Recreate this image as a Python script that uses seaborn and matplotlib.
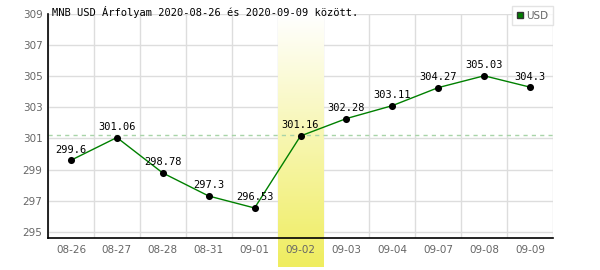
import numpy as np
import pandas as pd
import matplotlib
matplotlib.use("Agg")
import matplotlib.pyplot as plt
from matplotlib.patches import Patch
import seaborn as sns

dates = ["08-26", "08-27", "08-28", "08-31", "09-01", "09-02",
         "09-03", "09-04", "09-07", "09-08", "09-09"]
values = [299.6, 301.06, 298.78, 297.3, 296.53, 301.16,
          302.28, 303.11, 304.27, 305.03, 304.3]
value_labels = ["299.6", "301.06", "298.78", "297.3", "296.53", "301.16",
                "302.28", "303.11", "304.27", "305.03", "304.3"]
yticks = [295, 297, 299, 301, 303, 305, 307, 309]
highlight = "09-02"
series_name = "USD"
title = "MNB USD Árfolyam 2020-08-26 és 2020-09-09 között."

df = pd.DataFrame({"idx": np.arange(len(dates)), "date": dates, "value": values})

sns.set_theme(style="white")
plt.rcParams["font.family"] = ["DejaVu Sans"]

fig = plt.figure(figsize=(6.0, 2.7), dpi=100)
ax = fig.add_axes([0.08, 0.1185, 0.8417, 0.8295])

ymin, ymax = 294.6, 309.0
xmin, xmax = -0.5, len(dates) - 0.5

# grid
for y in yticks:
    ax.axhline(y, color="#dddddd", lw=1.0, zorder=0)
for xb in np.arange(xmin, xmax + 0.01, 1.0):
    ax.axvline(xb, color="#dddddd", lw=1.0, zorder=0)

# highlight band with gradient (extends below axes)
hi = dates.index(highlight)
grad = np.linspace(0, 1, 256).reshape(-1, 1)
top_c = np.array([1.0, 1.0, 1.0])
bot_c = np.array([239, 237, 95]) / 255.0
img = top_c[None, None, :] * (1 - grad[:, :, None]) + bot_c[None, None, :] * grad[:, :, None]
band_bottom = ymin - 29 / 15.54
ax.imshow(img, extent=(hi - 0.5, hi + 0.5, band_bottom, ymax), aspect="auto",
          origin="upper", zorder=1, clip_on=False, interpolation="bilinear")

# mean line
ax.axhline(np.mean(values), color="#a8d4a8", lw=1.0, ls=(0, (3, 3)), zorder=2)

sns.lineplot(data=df, x="idx", y="value", color="#008000", lw=1.0, ax=ax, zorder=3)
sns.scatterplot(data=df, x="idx", y="value", color="black", s=26, linewidth=0,
                ax=ax, zorder=4, legend=False)

for i, (v, lab) in enumerate(zip(values, value_labels)):
    ax.annotate(lab, (i, v), xytext=(0, 4), textcoords="offset points",
                ha="center", va="bottom", fontsize=7.5, family="DejaVu Sans Mono",
                color="black", zorder=5)

ax.set_xlim(xmin, xmax)
ax.set_ylim(ymin, ymax)
ax.set_xticks(df["idx"])
ax.set_xticklabels(dates)
ax.set_yticks(yticks)
ax.set_xlabel("")
ax.set_ylabel("")
ax.tick_params(axis="both", labelsize=7.5, labelcolor="#666666", length=0, pad=5)
ax.tick_params(axis="y", pad=4)
ax.xaxis.set_zorder(6)
ax.yaxis.set_zorder(6)

for s in ["top", "right"]:
    ax.spines[s].set_visible(False)
for s in ["left", "bottom"]:
    ax.spines[s].set_color("black")
    ax.spines[s].set_linewidth(1.2)
    ax.spines[s].set_zorder(6)

fig.text(52 / 600, 1 - 12 / 270, title, fontsize=7.5, family="DejaVu Sans Mono",
         color="black", ha="left", va="center")

leg = fig.legend(handles=[Patch(facecolor="#008000", edgecolor="#333333", label=series_name)],
                 loc="upper right", bbox_to_anchor=(553 / 600, 1 - 6 / 270),
                 fontsize=7.5, frameon=True, fancybox=False, handlelength=0.6,
                 handleheight=0.6, handletextpad=0.3, borderpad=0.45, borderaxespad=0)
leg.get_frame().set_edgecolor("#dddddd")
leg.get_frame().set_linewidth(1.0)
for t in leg.get_texts():
    t.set_color("#666666")

fig.savefig("out.png", dpi=100)
